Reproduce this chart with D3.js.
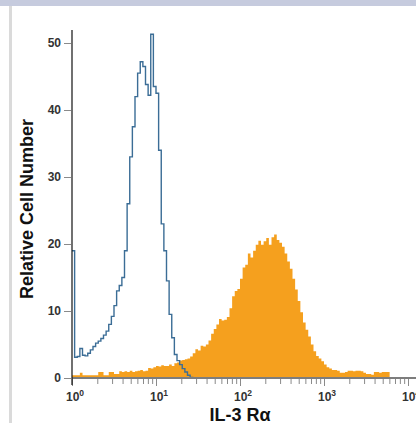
<!DOCTYPE html>
<meta charset="utf-8">
<html>
<head>
<script src="https://cdnjs.cloudflare.com/ajax/libs/d3/7.8.5/d3.min.js"></script>
<style>
  body { margin: 0; background: #fff; }
  svg text { font-family: "Liberation Sans", Arial, sans-serif; }
</style>
</head>
<body>
<script>
// histogram channels: 32 bins per decade, starting at 10^0
var binsPerDecade = 32;

// isotype control (blue outline), counts per bin
var isotype = [19, 3.1, 3.2, 4.4, 3.4, 3.3, 3.7, 4.2, 4.7, 5.2,
  5.5, 5.9, 6.4, 7.0, 8.0, 9.2, 10.8, 13.0, 13.8, 15.0,
  19, 26, 33, 37.5, 42, 45.5, 47.2, 46.5, 43.8, 42.2,
  51.3, 43.5, 42.5, 34, 23, 19, 14.5, 9.5, 6.0, 3.5,
  2.6, 2.0, 1.4, 0.9, 0.4, 0.1, 0];

// IL-3 Ra stained cells (orange fill), counts per bin
var stained = [0.4, 0.4, 0.4, 0.8, 0.4, 0.4, 0.4, 0.4, 0.4, 0.4,
  0.9, 0.9, 0.4, 0.4, 0.9, 0.9, 0.6, 0.6, 1.0, 0.9,
  1.0, 0.9, 1.1, 0.9, 1.0, 1.1, 1.2, 1.0, 1.1, 1.5,
  1.4, 1.6, 1.8, 1.7, 1.9, 1.8, 1.8, 2.0, 1.8, 2.2,
  2.3, 2.6, 2.7, 2.8, 2.9, 3.2, 3.7, 4.3, 4.1, 4.8,
  4.7, 5.0, 5.6, 6.6, 7.3, 8.0, 8.8, 8.6, 8.7, 9.1,
  10.4, 12.2, 13.0, 13.3, 14.8, 16.5, 16.9, 18.6, 18.0, 19.0,
  19.9, 20.5, 19.9, 20.4, 20.9, 19.9, 21.0, 21.4, 20.6, 20.2,
  19.6, 18.6, 17.4, 16.3, 14.8, 13.2, 11.5, 9.8, 8.3, 7.2,
  6.2, 5.0, 4.0, 3.3, 2.9, 2.5, 2.0, 1.6, 1.4, 1.2,
  1.2, 1.1, 0.8, 0.8, 0.9, 1.1, 1.1, 1.0, 1.1, 1.1,
  1.0, 0.8, 0.6, 0.6, 0.5, 0.9, 0.9, 0.8, 0.9, 0.9,
  0.9, 0];

var yTicks = [0, 10, 20, 30, 40, 50];
var xDecades = [0, 1, 2, 3, 4];
var xTitle = "IL-3 R\u03b1";
var yTitle = "Relative Cell Number";

var width = 416, height = 423;

var svg = d3.select("body").append("svg")
    .attr("width", width)
    .attr("height", height);

// page frame bits
svg.append("rect").attr("x", 0).attr("y", 0).attr("width", width).attr("height", 6)
    .attr("fill", "#c6cbde");
svg.append("rect").attr("x", 9).attr("y", 6).attr("width", 3).attr("height", height - 6)
    .attr("fill", "#dadada");

var x = d3.scaleLog().domain([1, 1e4]).range([72, 408]);
var y = d3.scaleLinear().domain([0, 50]).range([378, 43]);

function binStart(i) { return Math.pow(10, i / binsPerDecade); }

// orange filled histogram
var area = d3.area()
    .x(function(d, i) { return x(binStart(i)); })
    .y0(y(0))
    .y1(function(d) { return y(d); })
    .curve(d3.curveStepAfter);

svg.append("path")
    .datum(stained)
    .attr("d", area)
    .attr("fill", "#f5a01e");

// blue outline histogram
var line = d3.line()
    .x(function(d, i) { return x(binStart(i)); })
    .y(function(d) { return y(d); })
    .curve(d3.curveStepAfter);

svg.append("path")
    .datum(isotype)
    .attr("d", line)
    .attr("fill", "none")
    .attr("stroke", "#3b6d96")
    .attr("stroke-width", 1.4);

// x axis
svg.append("line")
    .attr("x1", 72).attr("x2", width)
    .attr("y1", y(0)).attr("y2", y(0))
    .attr("stroke", "#7d7d7d").attr("stroke-width", 2);

var minor = [];
xDecades.slice(0, 4).forEach(function(p) {
  for (var m = 2; m <= 9; m++) minor.push(m * Math.pow(10, p));
});

var xMinor = d3.axisBottom(x).tickValues(minor).tickSize(5).tickFormat("");
svg.append("g").attr("transform", "translate(0," + (y(0) + 1) + ")").call(xMinor)
    .call(function(g) { g.select(".domain").remove(); })
    .selectAll("line").attr("stroke", "#8a8a8a");

var majors = xDecades.map(function(p) { return Math.pow(10, p); });
var xMajor = d3.axisBottom(x).tickValues(majors).tickSize(7).tickFormat("");
svg.append("g").attr("transform", "translate(0," + (y(0) + 1) + ")").call(xMajor)
    .call(function(g) { g.select(".domain").remove(); })
    .selectAll("line").attr("stroke", "#8a8a8a");

var xl = svg.append("g").selectAll("text")
    .data(xDecades)
    .enter().append("text")
    .attr("x", function(p) { return x(Math.pow(10, p)) + 3; })
    .attr("y", 401)
    .attr("text-anchor", "middle")
    .attr("font-size", 12)
    .attr("font-weight", "bold")
    .attr("fill", "#333");
xl.append("tspan").text("10");
xl.append("tspan").attr("dy", -5).attr("font-size", 8.5).text(function(p) { return p; });

// y axis
svg.append("line")
    .attr("x1", 72).attr("x2", 72)
    .attr("y1", 30).attr("y2", 385)
    .attr("stroke", "#111").attr("stroke-width", 1.2);

var yAxis = d3.axisLeft(y).tickValues(yTicks).tickSize(7).tickPadding(3);
svg.append("g").attr("transform", "translate(71,0)").call(yAxis)
    .call(function(g) {
      g.select(".domain").remove();
      g.selectAll("line").attr("stroke", "#8a8a8a");
      g.selectAll("text")
        .attr("font-family", "Liberation Sans, Arial, sans-serif")
        .attr("font-size", 12)
        .attr("font-weight", "bold")
        .attr("fill", "#333");
    });

// titles
svg.append("text")
    .attr("x", 240).attr("y", 421)
    .attr("text-anchor", "middle")
    .attr("font-size", 18)
    .attr("font-weight", "bold")
    .attr("fill", "#111")
    .text(xTitle);

svg.append("text")
    .attr("transform", "translate(33,209) rotate(-90)")
    .attr("text-anchor", "middle")
    .attr("font-size", 18)
    .attr("font-weight", "bold")
    .attr("fill", "#111")
    .text(yTitle);
</script>
</body>
</html>
